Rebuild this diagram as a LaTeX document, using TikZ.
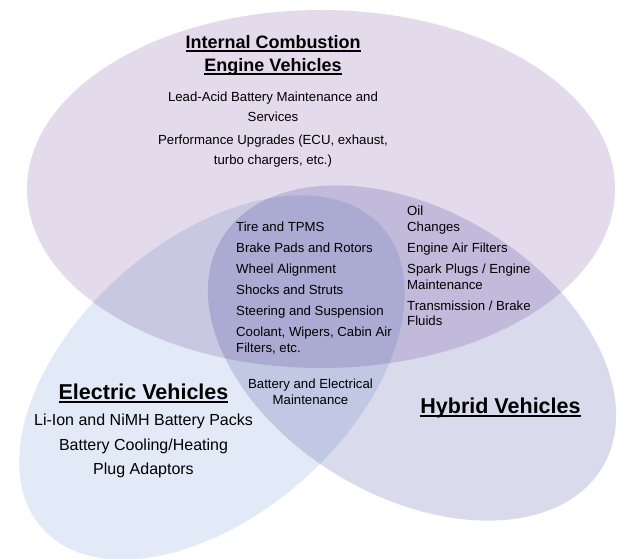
\documentclass[tikz,border=0pt]{standalone}
\usepackage{fontspec}
\setmainfont{Liberation Sans}
\usetikzlibrary{positioning}

% thick underline for the group headings
\newcommand{\headul}[1]{\leavevmode\setbox0=\hbox{#1}\rlap{\rule[-0.17em]{\wd0}{0.1em}}\box0}

\definecolor{icefill}{RGB}{227,218,235}
\definecolor{evfill}{RGB}{225,234,246}
\definecolor{hevfill}{RGB}{218,218,237}

\begin{document}
\begin{tikzpicture}[
    x=1pt, y=1pt,
    head/.style={inner sep=0, anchor=north, align=center, font=\bfseries\fontsize{21.5}{26}\selectfont},
    smallhead/.style={head, font=\bfseries\fontsize{18}{23}\selectfont},
    item/.style={inner sep=0, align=left, font=\fontsize{13.2}{15.7}\selectfont},
    bigitem/.style={inner sep=0, anchor=north, align=center, font=\fontsize{16}{24.5}\selectfont}
]
\useasboundingbox (0,0) rectangle (617,558);

% Centres of the three sets
\coordinate (ice) at (321,369);
\coordinate (ev) at (212,180.5);
\coordinate (hev) at (412,205);

% Sets, overlaps darken by multiplying
\begin{scope}[blend group=multiply]
\fill[icefill] (ice) ellipse [x radius=294, y radius=179];
\fill[evfill, rotate around={41.5:(ev)}] (ev) ellipse [x radius=227, y radius=137];
\fill[hevfill, rotate around={-31:(hev)}] (hev) ellipse [x radius=222, y radius=143];
\end{scope}

% Internal combustion
\node[smallhead] (icetitle) at (273,522.6) {\headul{Internal Combustion}\\\headul{Engine Vehicles}};
\node[item, anchor=north, align=center, font=\fontsize{13.2}{19.5}\selectfont] (iceitems) at (273,465.9)
    {Lead-Acid Battery Maintenance and\\Services\\[4pt]Performance Upgrades (ECU, exhaust,\\turbo chargers, etc.)};

% Common to all three
\node[item, anchor=north west] (shared) at (236,335.9)
    {Tire and TPMS\\[5.3pt]Brake Pads and Rotors\\[5.3pt]Wheel Alignment\\[5.3pt]Shocks and Struts\\[5.3pt]Steering and Suspension\\[5.3pt]Coolant, Wipers, Cabin Air\\Filters, etc.};

% Combustion and hybrid
\node[item, anchor=north west] (iceshared) at (407,351.9)
    {Oil\\Changes\\[5.3pt]Engine Air Filters\\[5.3pt]Spark Plugs / Engine\\Maintenance\\[5.3pt]Transmission / Brake\\Fluids};

% Electric and hybrid
\node[item, anchor=north, align=center, font=\fontsize{13.2}{16}\selectfont] (evshared) at (310.5,178.9)
    {Battery and Electrical\\Maintenance};

% Electric
\node[head] (evtitle) at (143.5,174) {\headul{Electric Vehicles}};
\node[bigitem] (evitems) at (143.5,143.9)
    {Li-Ion and NiMH Battery Packs\\Battery Cooling/Heating\\Plug Adaptors};

% Hybrid
\node[head] (hevtitle) at (500.5,160) {\headul{Hybrid Vehicles}};
\end{tikzpicture}
\end{document}
